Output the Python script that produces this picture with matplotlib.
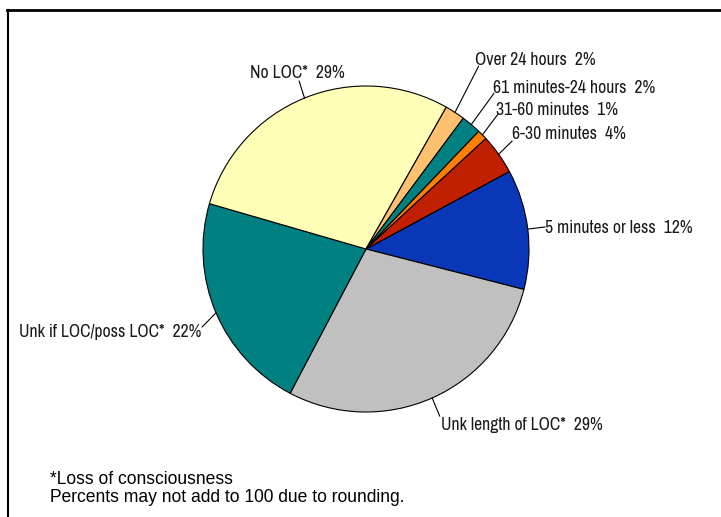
import matplotlib
matplotlib.use("Agg")
import matplotlib.pyplot as plt
import numpy as np
from matplotlib.lines import Line2D

# Data (clockwise, starting from "5 minutes or less")
categories = ["5 minutes or less", "Unk length of LOC*", "Unk if LOC/poss LOC*",
              "No LOC*", "Over 24 hours", "61 minutes-24 hours", "31-60 minutes",
              "6-30 minutes"]
percents = [12, 29, 22, 29, 2, 2, 1, 4]
colors = ["#0A36B8", "#C0C0C0", "#008080", "#FFFFB8", "#FFC070", "#008080",
          "#FF8000", "#C02000"]

# label layout (axes data units), alignment
label_pos = [(1.10, 0.13, "left"), (0.46, -1.08, "left"), (-1.01, -0.51, "right"),
             (-0.42, 1.08, "center"), (0.67, 1.16, "left"), (0.78, 0.99, "left"),
             (0.80, 0.855, "left"), (0.895, 0.707, "left")]
leader_end = [(1.098, 0.135), (0.452, -1.025), (-1.005, -0.478), (-0.41, 1.03),
              (0.69, 1.12), (0.785, 0.955), (0.81, 0.828), (0.896, 0.662)]

W, H = 721, 517
fig = plt.figure(figsize=(W / 100, H / 100), dpi=100)
cx, cy, r = 366, 249, 163
ax = fig.add_axes([(cx - r) / W, (H - cy - r) / H, 2 * r / W, 2 * r / H])
wedges, _ = ax.pie(percents, colors=colors, startangle=28.4, counterclock=False,
                   radius=1.0, wedgeprops=dict(edgecolor="black", linewidth=0.8))
ax.set_xlim(-1, 1)
ax.set_ylim(-1, 1)
ax.set_aspect("equal")
ax.set_axis_off()

lab_font = ["Archivo Narrow", "DejaVu Sans"]
for w, cat, p, (lx, ly, ha), (ex, ey) in zip(wedges, categories, percents,
                                               label_pos, leader_end):
    mid = np.deg2rad((w.theta1 + w.theta2) / 2)
    sx, sy = np.cos(mid), np.sin(mid)
    ax.add_line(Line2D([sx, ex], [sy, ey], color="black", lw=0.8, clip_on=False))
    ax.text(lx, ly, f"{cat}  {p}%", ha=ha, va="center", fontsize=12.7,
            family=lab_font, color="#1a1a1a", clip_on=False)

# footnote
foot_font = ["Liberation Sans", "DejaVu Sans"]
fig.text(50 / W, 1 - 480 / H, "*Loss of consciousness", ha="left", va="center",
         fontsize=12.65, family=foot_font)
fig.text(50 / W, 1 - 498 / H, "Percents may not add to 100 due to rounding.",
         ha="left", va="center", fontsize=12.65, family=foot_font)

# border (top and left only, cropped frame)
fig.add_artist(Line2D([7 / W, 1], [1 - 9.5 / H, 1 - 9.5 / H], color="black",
                      lw=2, transform=fig.transFigure))
fig.add_artist(Line2D([7.5 / W, 7.5 / W], [0, 1 - 9.5 / H], color="black",
                      lw=1.5, transform=fig.transFigure))

fig.savefig("out.png", dpi=100, facecolor="white")
